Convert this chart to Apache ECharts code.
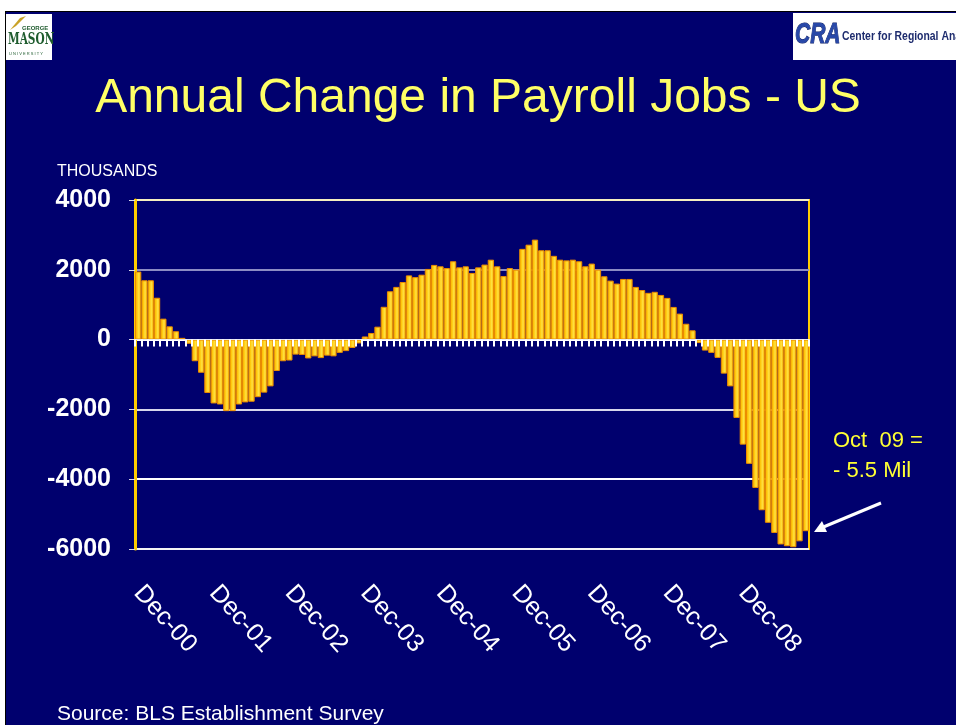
<!DOCTYPE html>
<html>
<head>
<meta charset="utf-8">
<script src="https://cdn.jsdelivr.net/npm/echarts@6/dist/echarts.min.js"></script>
<style>
	html, body { margin: 0; padding: 0; background: #ffffff; }
	#slide { position: absolute; left: 5px; top: 11px; width: 960px; height: 720px; background: #00006E; border-left: 1px solid #000; border-top: 1px solid #000; }
	#main { position: absolute; left: 0; top: 0; width: 956px; height: 725px; }
</style>
</head>
<body>
<div id="slide"></div>
<div id="main"></div>
<script>
// annual change in payroll jobs, thousands, Dec-00 .. Oct-09
var dec00 = [1950];
var y2001 = [1700, 1700, 1200, 600, 380, 240, 50, -120, -620, -950, -1530, -1830];
var y2002 = [-1860, -2050, -2050, -1860, -1800, -1780, -1650, -1520, -1340, -900, -620, -600];
var y2003 = [-430, -440, -540, -480, -530, -460, -480, -380, -330, -240, -110, 90];
var y2004 = [190, 370, 940, 1385, 1510, 1650, 1840, 1790, 1860, 2025, 2140, 2100];
var y2005 = [2050, 2245, 2070, 2100, 1910, 2070, 2150, 2290, 2100, 1820, 2050, 2005];
var y2006 = [2600, 2720, 2865, 2560, 2560, 2400, 2290, 2270, 2290, 2245, 2100, 2178];
var y2007 = [2005, 1815, 1690, 1605, 1738, 1738, 1510, 1420, 1340, 1370, 1280, 1195];
var y2008 = [936, 745, 455, 267, -100, -315, -380, -525, -975, -1340, -2245, -3010];
var y2009 = [-3560, -4250, -4890, -5250, -5540, -5870, -5920, -5950, -5780, -5490];

var monthNames = ['Jan', 'Feb', 'Mar', 'Apr', 'May', 'Jun', 'Jul', 'Aug', 'Sep', 'Oct', 'Nov', 'Dec'];
var yearLabels = ['01', '02', '03', '04', '05', '06', '07', '08', '09'];
var yTicks = [-6000, -4000, -2000, 0, 2000, 4000];

var values = [].concat(dec00, y2001, y2002, y2003, y2004, y2005, y2006, y2007, y2008, y2009);
var months = ['Dec-00'];
for (var y = 0; y < yearLabels.length; y++) {
	for (var m = 0; m < 12; m++) {
		if (months.length < values.length) months.push(monthNames[m] + '-' + yearLabels[y]);
	}
}

var font = 'Liberation Sans, Arial, sans-serif';

var chart = echarts.init(document.getElementById('main'));

var barColor = new echarts.graphic.LinearGradient(0, 0, 1, 0, [
	{offset: 0, color: '#F4A400'},
	{offset: 0.35, color: '#FFCC10'},
	{offset: 0.6, color: '#FFE040'},
	{offset: 1, color: '#F8B800'}
]);

var option = {
	backgroundColor: 'transparent',
	animation: false,
	grid: {
		left: 135, right: 147, top: 200, bottom: 176,
		show: true, borderColor: '#FFCC00', borderWidth: 2
	},
	title: {
		text: 'Annual Change in Payroll Jobs - US',
		left: 'center', top: 70,
		textStyle: {color: '#FFFF66', fontSize: 48, fontWeight: 'normal', fontFamily: font}
	},
	xAxis: [
		{
			type: 'category',
			data: months,
			axisLine: {onZero: true, lineStyle: {color: '#E8E8F0', width: 1}},
			axisTick: {show: true, interval: 0, length: 7, lineStyle: {color: '#FFFFFF', width: 2}},
			axisLabel: {show: false},
			z: 5
		},
		{
			type: 'category',
			data: months,
			position: 'bottom',
			axisLine: {show: false, onZero: false},
			axisTick: {show: false},
			axisLabel: {
				interval: function (idx, name) { return name.indexOf('Dec') === 0; },
				rotate: -48,
				margin: 40,
				color: '#FFFFFF',
				fontSize: 25,
				fontFamily: font
			}
		}
	],
	yAxis: {
		type: 'value',
		min: -6000, max: 4000, interval: 2000,
		axisLine: {show: true, lineStyle: {color: '#FFCC00', width: 3}},
		axisTick: {show: true, length: 6, lineStyle: {color: '#D8D8E8', width: 1}},
		axisLabel: {color: '#FFFFFF', fontSize: 25, fontWeight: 'bold', fontFamily: font, margin: 24,
			customValues: yTicks, formatter: function (v) { return String(v); }},
		splitLine: {lineStyle: {color: ['#F4F4F4', '#FFFFFF', '#D6D6EC', '#FFFFFF', '#8C8CC4', '#F6EFC0'], width: 2}}
	},
	series: [{
		type: 'bar',
		data: values,
		xAxisIndex: 0,
		barCategoryGap: '0%',
		itemStyle: {color: barColor, borderColor: '#EC8C00', borderWidth: 1},
		z: 3
	}],
	graphic: [
		{type: 'text', left: 57, top: 164, style: {text: 'THOUSANDS', fill: '#FFFFFF', font: '16px ' + font}},
		{type: 'text', left: 833, top: 426, style: {text: 'Oct  09 =\n- 5.5 Mil', fill: '#FFFF33', font: '22px ' + font, lineHeight: 30}},
		{type: 'line', shape: {x1: 881, y1: 503, x2: 821, y2: 528}, style: {stroke: '#FFFFFF', lineWidth: 3}},
		{type: 'polygon', shape: {points: [[814, 532], [822, 521], [827, 532]]}, style: {fill: '#FFFFFF'}},
		{type: 'text', left: 57, top: 704, style: {text: 'Source: BLS Establishment Survey', fill: '#FFFFFF', font: '21px ' + font}},
		// George Mason logo
		{type: 'rect', shape: {x: 6, y: 14, width: 46, height: 46}, style: {fill: '#FFFFFF'}},
		{type: 'text', left: 22, top: 25, style: {text: 'GEORGE', fill: '#1F5C2E', font: 'bold 6px ' + font}},
		{type: 'text', x: 8, y: 31, scaleX: 0.62, style: {text: 'MASON', fill: '#1F5C2E', font: 'bold 17px DejaVu Serif, serif'}},
		{type: 'text', left: 9, top: 52, style: {text: 'U N I V E R S I T Y', fill: '#1F5C2E', font: '4px ' + font}},
		{type: 'polygon', shape: {points: [[10, 30], [20, 18], [26, 16], [16, 26]]}, style: {fill: '#C9A227'}},
		// CRA logo
		{type: 'rect', shape: {x: 793, y: 13, width: 170, height: 47}, style: {fill: '#FFFFFF'}},
		{type: 'text', x: 795, y: 20, scaleX: 0.7, style: {text: 'CRA', fill: '#2848A8', font: 'italic bold 30px ' + font, stroke: '#0A1A60', lineWidth: 1}},
		{type: 'text', x: 842, y: 30, scaleX: 0.8, style: {text: 'Center for Regional Analysis', fill: '#1E2C6E', font: 'bold 13px ' + font}}
	]
};

chart.setOption(option);
</script>
</body>
</html>
